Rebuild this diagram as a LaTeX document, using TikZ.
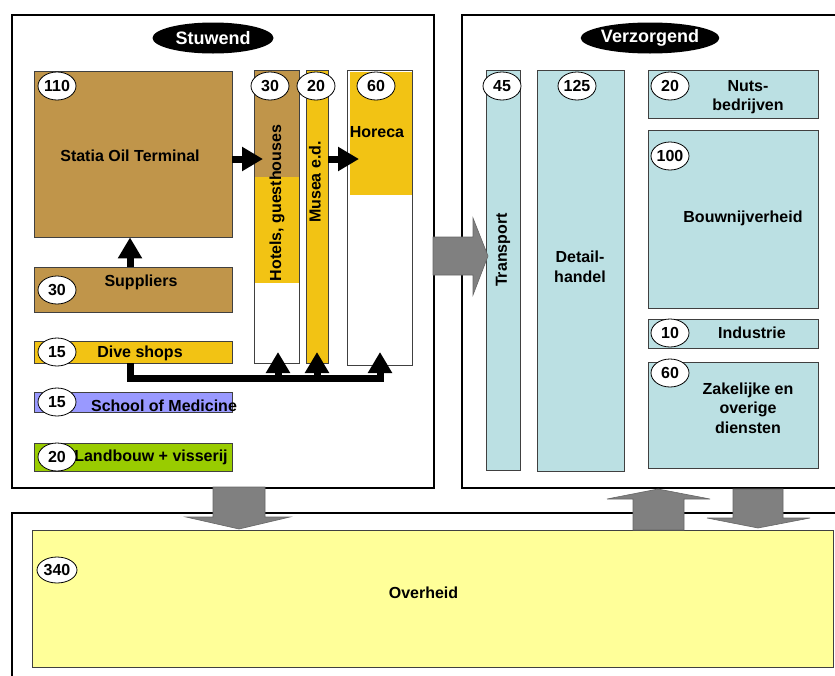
\documentclass[tikz,border=0pt]{standalone}
\usepackage{fontspec}
\setmainfont{Liberation Sans}
\usetikzlibrary{arrows.meta,shapes.geometric}

\definecolor{oilbrown}{HTML}{C0954A}
\definecolor{gold}{HTML}{F2C314}
\definecolor{lightblue}{HTML}{BBE0E3}
\definecolor{lilac}{HTML}{9999FF}
\definecolor{grassgreen}{HTML}{99CC00}
\definecolor{paleyellow}{HTML}{FFFF99}
\definecolor{flowgray}{HTML}{808080}

\tikzset{
	box/.style={draw=black!75, line width=0.8pt, inner sep=0pt},
	badge/.style={draw, ellipse, fill=white, line width=0.8pt, inner sep=0pt, minimum width=38pt, minimum height=28pt, font=\fontsize{16}{18}\selectfont\bfseries},
	title/.style={ellipse, fill=black, text=white, inner sep=0pt, minimum width=121pt, minimum height=31pt, font=\fontsize{18}{20}\selectfont\bfseries},
	lbl/.style={inner sep=0pt, align=center, font=\fontsize{16}{19.5}\selectfont\bfseries},
	panel/.style={draw, line width=2.2pt},
	arr/.style={line width=7pt, -{Triangle[width=23pt,length=21pt]}},
	flow/.style={fill=flowgray, draw=black!60, line width=0.6pt}
}

\begin{document}
\begin{tikzpicture}[x=1pt, y=-1pt]
	\useasboundingbox (0, 0) rectangle (835, 675);

	\draw[panel] (12, 15) rectangle (434, 488);
	\draw[panel] (462, 15) rectangle (850, 488);
	\draw[panel] (12, 513) rectangle (850, 690);

	\node[title] at (213, 38) (stuwend) {Stuwend};
	\node[title] at (650, 38) (verzorgend) {Verzorgend};

	\node[box, fill=oilbrown, minimum width=198pt, minimum height=166pt] at (133, 154) (oil) {};
	\node[box, fill=oilbrown, minimum width=198pt, minimum height=45pt] at (133, 289.5) (supp) {};
	\node[box, fill=gold, minimum width=198pt, minimum height=22pt] at (133, 352) (dive) {};
	\node[box, fill=lilac, minimum width=198pt, minimum height=20pt] at (133, 402) (school) {};
	\node[box, fill=grassgreen, minimum width=198pt, minimum height=28pt] at (133, 457) (landb) {};

	\fill[oilbrown] (254, 70) rectangle (299, 177);
	\fill[gold] (254, 177) rectangle (299, 283);
	\node[box, minimum width=45pt, minimum height=293pt] at (276.5, 216.5) (hotels) {};
	\node[box, fill=gold, minimum width=22pt, minimum height=293pt] at (317, 216.5) (musea) {};
	\fill[gold] (350, 72) rectangle (412, 195);
	\node[box, minimum width=65pt, minimum height=295pt] at (379.5, 217.5) (horeca) {};

	\node[box, fill=lightblue, minimum width=34pt, minimum height=400pt] at (503, 270) (transport) {};
	\node[box, fill=lightblue, minimum width=87pt, minimum height=401pt] at (580.5, 270.5) (detail) {};
	\node[box, fill=lightblue, minimum width=170pt, minimum height=48pt] at (733, 94) (nuts) {};
	\node[box, fill=lightblue, minimum width=170pt, minimum height=178pt] at (733, 219) (bouw) {};
	\node[box, fill=lightblue, minimum width=170pt, minimum height=29pt] at (733, 333.5) (industrie) {};
	\node[box, fill=lightblue, minimum width=170pt, minimum height=106pt] at (733, 415) (zakelijk) {};

	\node[box, fill=paleyellow, minimum width=801pt, minimum height=137pt] at (432.5, 598.5) (overheid) {};

	\node[lbl] at (130, 156) (oilL) {Statia Oil Terminal};
	\node[lbl] at (141, 282) (suppL) {Suppliers};
	\node[lbl] at (140, 353) (diveL) {Dive shops};
	\node[lbl] at (164, 406) (schoolL) {School of Medicine};
	\node[lbl] at (151, 457) (landbL) {Landbouw + visserij};
	\node[lbl, rotate=90] at (277, 203) (hotelsL) {Hotels, guesthouses};
	\node[lbl, rotate=90] at (315, 182) (museaL) {Musea e.d.};
	\node[lbl] at (377, 132) (horecaL) {Horeca};
	\node[lbl, rotate=90] at (503, 250) (transportL) {Transport};
	\node[lbl] at (580, 267) (detailL) {Detail-\\handel};
	\node[lbl] at (748, 97) (nutsL) {Nuts-\\bedrijven};
	\node[lbl] at (743, 218) (bouwL) {Bouwnijverheid};
	\node[lbl] at (752, 333) (industrieL) {Industrie};
	\node[lbl] at (748, 408) (zakelijkL) {Zakelijke en\\overige\\diensten};
	\node[lbl] at (423.5, 593) (overheidL) {Overheid};

	\node[badge] at (57, 86) (n110) {110};
	\node[badge] at (57, 290) (n30s) {30};
	\node[badge] at (57, 352) (n15d) {15};
	\node[badge] at (57, 402) (n15s) {15};
	\node[badge] at (57, 457) (n20l) {20};
	\node[badge] at (270, 86) (n30h) {30};
	\node[badge] at (316, 86) (n20m) {20};
	\node[badge] at (376, 86) (n60h) {60};
	\node[badge] at (502, 86) (n45) {45};
	\node[badge] at (577, 86) (n125) {125};
	\node[badge] at (670, 86) (n20n) {20};
	\node[badge] at (670, 156) (n100) {100};
	\node[badge] at (670, 333) (n10) {10};
	\node[badge] at (670, 373) (n60z) {60};
	\node[badge, minimum width=40pt, minimum height=26pt] at (57, 570) (n340) {340};

	\coordinate (busL) at (130, 378);
	\coordinate (busR) at (380, 378);
	\coordinate (tipO) at (263, 159);
	\coordinate (tipM) at (359, 159);
	\coordinate (tipH) at (278, 352);
	\coordinate (tipU) at (317, 352);
	\coordinate (tipR) at (380, 352);

	\draw[arr] (supp.north -| busL) -- (oil.south -| busL);
	\draw[arr] (oil.east |- tipO) -- (tipO);
	\draw[arr] (musea.east |- tipM) -- (tipM);
	\draw[arr] (dive.south -| busL) |- (busR) -- (tipR);
	\draw[arr] (busL -| tipH) -- (tipH);
	\draw[arr] (busL -| tipU) -- (tipU);

	\draw[flow] (433, 237) -- (473, 237) -- (473, 218) -- (488, 256) -- (473, 295) -- (473, 275) -- (433, 275) -- cycle;
	\draw[flow] (213, 487) -- (265, 487) -- (265, 517) -- (290, 517) -- (239, 529) -- (186, 517) -- (213, 517) -- cycle;
	\draw[flow] (633, 530) -- (633, 499) -- (607, 499) -- (658, 489) -- (710, 499) -- (684, 499) -- (684, 530) -- cycle;
	\draw[flow] (733, 489) -- (783, 489) -- (783, 518) -- (810, 518) -- (758, 528) -- (707, 518) -- (733, 518) -- cycle;
\end{tikzpicture}
\end{document}
